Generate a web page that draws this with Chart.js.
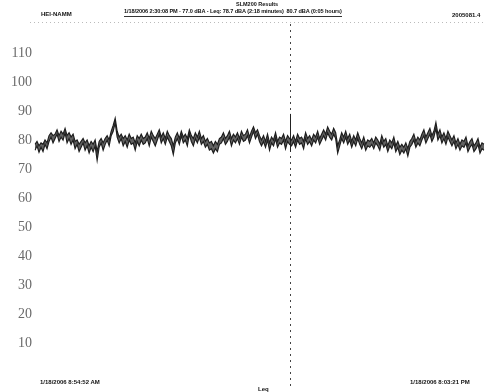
<!DOCTYPE html>
<html>
<head>
<meta charset="utf-8">
<script src="https://cdn.jsdelivr.net/npm/chart.js@4/dist/chart.umd.min.js"></script>
<style>
  html,body{margin:0;padding:0;background:#fff;}
  #wrap{position:relative;width:485px;height:392px;overflow:hidden;}
  canvas{position:absolute;left:0;top:0;}
  .t{position:absolute;font-family:"Liberation Sans",Arial,sans-serif;font-weight:bold;color:#111;white-space:nowrap;line-height:1;}
</style>
</head>
<body>
<div id="wrap">
  <canvas id="c" width="485" height="392"></canvas>
  <div class="t" style="left:236px;top:2px;font-size:5.5px;">SLM200 Results</div>
  <div class="t" style="left:124px;top:9px;font-size:5.6px;letter-spacing:-0.1px;border-bottom:1px solid #333;padding-bottom:1px;">1/18/2006 2:30:08 PM - 77.0 dBA - Leq: 78.7 dBA (2:18 minutes) &nbsp;80.7 dBA (0:05 hours)</div>
  <div class="t" style="left:41px;top:11px;font-size:6px;">HEI-NAMM</div>
  <div class="t" style="left:452px;top:12px;font-size:6px;">2005081.4</div>
  <div class="t" style="left:40px;top:379px;font-size:6px;">1/18/2006 8:54:52 AM</div>
  <div class="t" style="left:258px;top:386px;font-size:6px;">Leq</div>
  <div class="t" style="left:410px;top:379px;font-size:6px;">1/18/2006 8:03:21 PM</div>
</div>
<script>
const levels = [
  76.5, 78, 75.8, 77.5, 76, 78.5, 77,
  79.5, 81, 79, 80.5, 82, 79.5, 81, 80, 82.5, 79, 80.5, 78.5, 80,
  77, 78.5, 76, 77.5, 79, 76.5, 78, 75.5, 77.5, 76, 78,
  73,
  77.5, 79, 76.5, 78.5, 80, 78,
  81.5, 83, 86, 81,
  79, 80.5, 78, 79.5, 77.5, 80, 78.5, 79, 76.5, 79.5, 78, 80, 78.5,
  79, 80.5, 78, 81, 79.5, 78, 80, 82, 79, 80.5, 78.5, 81, 79.5, 78,
  75,
  79, 80.5, 78.5, 81.5, 79, 80, 78, 82, 79.5, 78, 80.5, 79, 81, 78.5, 79.5,
  77.5, 78.5, 76.5, 77, 75.5, 77, 76, 78.5,
  79, 80.5, 78.5, 79.5, 81, 78, 80, 79, 80.5, 78.5, 81, 79.5, 80, 81.5, 79,
  81, 83, 80.5, 82, 79.5,
  78, 79.5, 77.5, 80, 76.5, 79, 78, 80.5, 77.5, 79, 78.5, 80, 77, 79.5, 78.5,
  78, 79.5, 77.5, 80, 78.5, 79, 77, 80.5, 78.5, 79.5, 78, 80, 79, 81, 78.5, 80,
  81.5, 80, 82.5, 81, 80, 82, 80.5,
  75.5,
  78, 80.5, 79, 81, 78.5, 80, 77.5, 79.5, 78, 80.5, 78.5, 77, 79, 76.5, 78, 77.5,
  78.5, 77, 79, 78, 76.5, 79.5, 77.5, 78.5, 76, 78, 77, 79,
  76, 77.5, 75, 76.5, 75.5, 77, 74.5, 77.5,
  78.5, 80, 77.5, 79, 78,
  80, 81.5, 79, 80.5, 82, 79.5, 81, 84, 80, 81.5, 79, 80.5, 78.5, 81, 79.5,
  78, 79.5, 77, 78.5, 76.5, 78, 77.5, 79, 76, 77.5, 78.5, 76, 77, 78.5, 75.5, 77, 76.5
];
const levelsMax = [
  78.5, 79.5, 78, 79, 78.5, 80, 79,
  81.5, 82.5, 81.5, 82, 83.5, 81.5, 83, 82, 84, 81.5, 82.5, 81, 82,
  79.5, 80, 78.5, 79.5, 80.5, 79, 80, 78, 79.5, 78.5, 80,
  76,
  79.5, 80.5, 79, 80.5, 81.5, 80,
  83, 85, 87.5, 83,
  81, 82, 80.5, 81.5, 80, 82, 80.5, 81, 79, 81.5, 80.5, 82, 80.5,
  81, 82.5, 80.5, 83, 81.5, 80.5, 82, 83.5, 81, 82.5, 80.5, 83, 81.5, 80.5,
  78,
  81, 82.5, 80.5, 83, 81, 82, 80.5, 83.5, 81.5, 80.5, 82.5, 81, 83, 80.5, 81.5,
  79.5, 80.5, 79, 79.5, 78, 79.5, 78.5, 80.5,
  81, 82.5, 80.5, 81.5, 83, 80.5, 82, 81, 82.5, 80.5, 83, 81.5, 82, 83.5, 81,
  83, 84.5, 82.5, 83.5, 81.5,
  80, 81.5, 79.5, 82, 79, 81, 80, 82.5, 79.5, 81, 80.5, 82, 79.5, 81.5, 80.5,
  80, 81.5, 79.5, 82, 80.5, 81, 79.5, 82.5, 80.5, 81.5, 80, 82, 81, 83, 80.5, 82,
  83.5, 82, 84.5, 83, 82, 84, 82.5,
  78,
  80, 82.5, 81, 83, 80.5, 82, 79.5, 81.5, 80, 82.5, 80.5, 79, 81, 78.5, 80, 79.5,
  80.5, 79, 81, 80, 78.5, 81.5, 79.5, 80.5, 78, 80, 79, 81,
  78, 79.5, 77.5, 78.5, 77.5, 79, 77, 79.5,
  80.5, 82, 79.5, 81, 80,
  82, 83.5, 81, 82.5, 84, 81.5, 83, 86, 82, 83.5, 81, 82.5, 80.5, 83, 81.5,
  80, 81.5, 79, 80.5, 78.5, 80, 79.5, 81, 78, 79.5, 80.5, 78, 79, 80.5, 77.5, 79, 78.5
];
const samples = levels.map((_, i) => i);
const yTicks = [10, 20, 30, 40, 50, 60, 70, 80, 90, 100, 110];
const cursorIndex = 127;

const cursorPlugin = {
  id: 'cursor',
  afterDatasetsDraw(chart) {
    const ctx = chart.ctx;
    const x = Math.round(chart.scales.x.getPixelForValue(cursorIndex)) + 0.5;
    const y = chart.scales.y;
    ctx.save();
    ctx.strokeStyle = '#444';
    ctx.lineWidth = 1;
    ctx.setLineDash([2, 4]);
    ctx.beginPath();
    ctx.moveTo(x, 24);
    ctx.lineTo(x, 388);
    ctx.stroke();
    ctx.setLineDash([]);
    ctx.strokeStyle = '#222';
    ctx.beginPath();
    ctx.moveTo(x, y.getPixelForValue(89));
    ctx.lineTo(x, y.getPixelForValue(76));
    ctx.stroke();
    ctx.strokeStyle = '#bbb';
    ctx.setLineDash([1, 3]);
    ctx.beginPath();
    ctx.moveTo(30, 22.5);
    ctx.lineTo(485, 22.5);
    ctx.stroke();
    ctx.restore();
  }
};

new Chart(document.getElementById('c'), {
  type: 'line',
  data: {
    labels: samples,
    datasets: [{
      data: levels,
      borderColor: '#1e1e1e',
      borderWidth: 1.2,
      pointRadius: 0,
      tension: 0,
      fill: false
    }, {
      data: levelsMax,
      borderColor: '#1e1e1e',
      borderWidth: 1.2,
      pointRadius: 0,
      tension: 0,
      fill: { target: 0 },
      backgroundColor: 'rgba(70,70,70,0.85)'
    }]
  },
  options: {
    responsive: false,
    animation: false,
    layout: { padding: { top: 24, bottom: 20, left: 8, right: 1 } },
    plugins: { legend: { display: false }, tooltip: { enabled: false } },
    scales: {
      x: {
        display: false,
        offset: false
      },
      y: {
        min: 0,
        max: 120,
        afterBuildTicks(axis) {
          axis.ticks = [0, ...yTicks, 120].map(v => ({ value: v }));
        },
        ticks: {
          padding: 3,
          color: '#6a6a6a',
          font: { family: '"Liberation Serif", "DejaVu Serif", serif', size: 14 },
          callback: v => yTicks.includes(v) ? String(v) : ''
        },
        grid: { display: false, drawTicks: false },
        border: { display: false }
      }
    }
  },
  plugins: [cursorPlugin]
});
</script>
</body>
</html>
